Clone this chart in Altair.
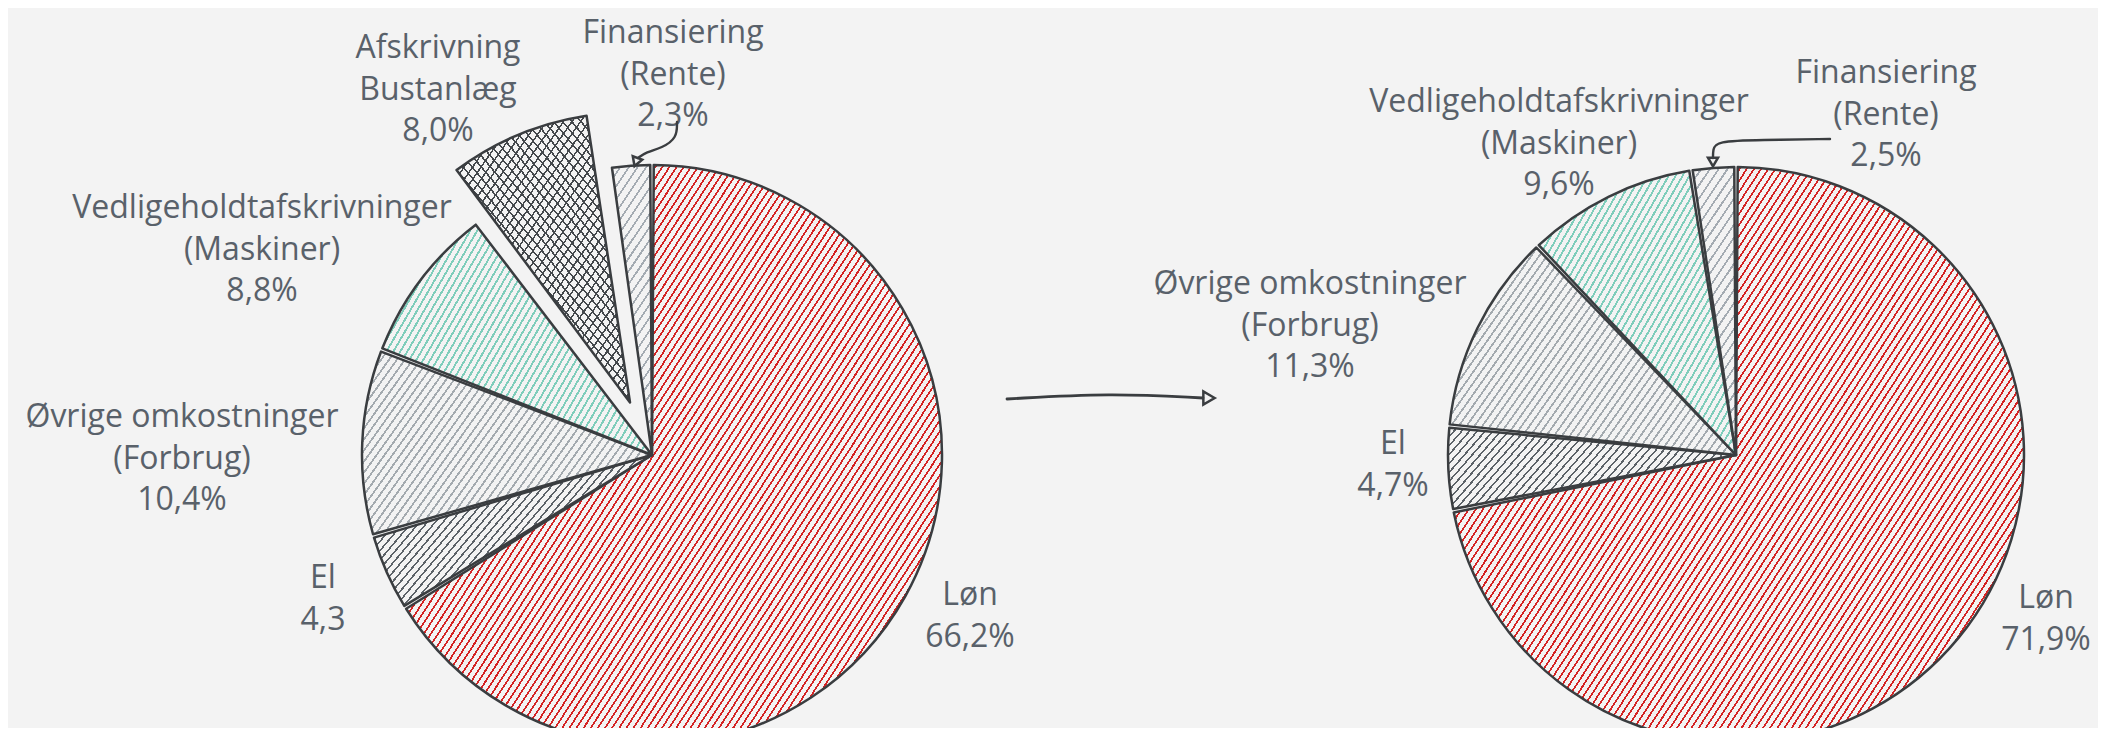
import math
import numpy as np
import pandas as pd
import altair as alt

# ---------------- data ----------------
left_categories = ["Løn", "El", "Øvrige omkostninger", "Vedligeholdtafskrivninger", "Afskrivning", "Finansiering"]
left_subtitles = ["", "", "(Forbrug)", "(Maskiner)", "Bustanlæg", "(Rente)"]
left_values = [66.2, 4.3, 10.4, 8.8, 8.0, 2.3]
left_value_labels = ["66,2%", "4,3", "10,4%", "8,8%", "8,0%", "2,3%"]

right_categories = ["Løn", "El", "Øvrige omkostninger", "Vedligeholdtafskrivninger", "Finansiering"]
right_subtitles = ["", "", "(Forbrug)", "(Maskiner)", "(Rente)"]
right_values = [71.9, 4.7, 11.3, 9.6, 2.5]
right_value_labels = ["71,9%", "4,7%", "11,3%", "9,6%", "2,5%"]

# ---------------- layout / style ----------------
W, H = 2090, 720
M = 8  # page margin (screen coords -> chart coords)
BG = "#f3f3f3"
INK = "#3a3d40"
TEXT = "#59616a"
FONT = "Open Sans"
FS = 32
LH = 41.5

pies = {
    "left": dict(cx=652 - M, cy=455 - M, r=290, explode={"Afskrivning": 57},
                 labels={"Løn": (970, 595), "El": (323, 578), "Øvrige omkostninger": (182, 417),
                         "Vedligeholdtafskrivninger": (262, 208), "Afskrivning": (438, 48),
                         "Finansiering": (673, 33)}),
    "right": dict(cx=1736 - M, cy=455 - M, r=288, explode={},
                  labels={"Løn": (2046, 598), "El": (1393, 444), "Øvrige omkostninger": (1310, 284),
                          "Vedligeholdtafskrivninger": (1559, 102), "Finansiering": (1886, 73)}),
}

styles = {
    "Løn": dict(color="#d42424", spacing=6.0, lw=1.7, angle=57),
    "El": dict(color="#5c6268", spacing=6.0, lw=1.6, angle=50),
    "Øvrige omkostninger": dict(color="#a4aaaf", spacing=6.5, lw=1.8, angle=55),
    "Vedligeholdtafskrivninger": dict(color="#7fcdbb", spacing=6.0, lw=1.9, angle=60),
    "Afskrivning": dict(color="#44484c", spacing=7.0, lw=1.5, angle=55, cross=130),
    "Finansiering": dict(color="#a4abb2", spacing=7.5, lw=1.8, angle=55),
}


def hatch(w, h, color, angle_deg, spacing, lw, bg):
    th = math.radians(angle_deg)
    nx, ny = math.sin(th) / h, math.cos(th) / w
    n = math.hypot(nx, ny)
    nx, ny = nx / n, ny / n
    s = 0.5 * (abs(nx) + abs(ny))
    g = math.hypot(nx / w, ny / h) / (2 * s)
    N = max(2, int(round(1.0 / (spacing * g))))
    f = min(0.9, lw / spacing)
    stops = []
    for k in range(N):
        a, b, c = k / N, (k + f) / N, (k + 1) / N
        stops += [{"offset": round(a, 5), "color": color}, {"offset": round(b, 5), "color": color},
                  {"offset": round(b, 5), "color": bg}, {"offset": round(c, 5), "color": bg}]
    return {"gradient": "linear", "x1": round(0.5 - s * nx, 5), "y1": round(0.5 - s * ny, 5),
            "x2": round(0.5 + s * nx, 5), "y2": round(0.5 + s * ny, 5), "stops": stops}


def bbox(t1, t2, r):
    ts = np.linspace(t1, t2, 400)
    xs = np.concatenate([[0.0], r * np.sin(ts)])
    ys = np.concatenate([[0.0], -r * np.cos(ts)])
    return max(xs.max() - xs.min(), 4.0), max(ys.max() - ys.min(), 4.0)


layers = []
text_rows = []

for key, cats, subs, vals, vlabels in [
    ("left", left_categories, left_subtitles, left_values, left_value_labels),
    ("right", right_categories, right_subtitles, right_values, right_value_labels),
]:
    P = pies[key]
    total = float(sum(vals))
    cum = 0.0
    for cat, sub, v, vl in zip(cats, subs, vals, vlabels):
        t1 = 2 * math.pi * cum / total
        cum += v
        t2 = 2 * math.pi * cum / total
        mid = 0.5 * (t1 + t2)
        d = P["explode"].get(cat, 0)
        row = dict(cat=cat, value=v, t1=t1, t2=t2,
                   x=P["cx"] + d * math.sin(mid), y=P["cy"] - d * math.cos(mid))
        df = pd.DataFrame([row])
        st = styles[cat]
        w, h = bbox(t1, t2, P["r"])
        enc = dict(theta=alt.Theta("t1:Q", scale=None, stack=False), theta2="t2:Q",
                   x=alt.X("x:Q", scale=None), y=alt.Y("y:Q", scale=None))
        layers.append(alt.Chart(df).mark_arc(
            radius=P["r"], padAngle=0.012,
            fill=hatch(w, h, st["color"], st["angle"], st["spacing"], st["lw"], BG),
        ).encode(**enc))
        if "cross" in st:
            layers.append(alt.Chart(df).mark_arc(
                radius=P["r"], padAngle=0.012,
                fill=hatch(w, h, st["color"], st["cross"], st["spacing"], st["lw"], "rgba(0,0,0,0)"),
            ).encode(**enc))
        layers.append(alt.Chart(df).mark_arc(
            radius=P["r"], padAngle=0.012, fillOpacity=0, stroke=INK, strokeWidth=2.5,
            strokeJoin="round").encode(**enc))
        # label lines
        lx, ly = P["labels"][cat]
        lines = [cat] + ([sub] if sub else []) + [vl]
        for i, t in enumerate(lines):
            text_rows.append(dict(x=lx - M, y=ly - M + i * LH, text=t))

texts = alt.Chart(pd.DataFrame(text_rows)).mark_text(
    font=FONT, fontSize=FS, color=TEXT, align="center", baseline="middle"
).encode(x=alt.X("x:Q", scale=None), y=alt.Y("y:Q", scale=None), text="text:N")
layers.append(texts)

# ---------------- arrows (annotation geometry, screen coords) ----------------
arrow_paths = {
    "main": [(1007, 399), (1110, 393), (1203, 398)],
    "fin_left": [(677, 122), (677, 138), (662, 148), (646, 152), (638, 158)],
    "fin_right": [(1830, 139), (1760, 140), (1716, 141), (1713, 150), (1713, 158)],
}
arrow_heads = [("main", 1209, 398, "triangle-right", 0, 170),
               ("fin_left", 636, 162, "triangle-down", 20, 100),
               ("fin_right", 1713, 162, "triangle-down", 0, 100)]

path_rows = []
for name, pts in arrow_paths.items():
    for i, (px, py) in enumerate(pts):
        path_rows.append(dict(name=name, i=i, x=px - M, y=py - M))
path_df = pd.DataFrame(path_rows)
for name in arrow_paths:
    layers.append(alt.Chart(path_df[path_df.name == name]).mark_line(
        interpolate="basis", stroke=INK, strokeWidth=2.8 if name == "main" else 2.4, strokeCap="round"
    ).encode(x=alt.X("x:Q", scale=None), y=alt.Y("y:Q", scale=None), order="i:Q"))
for name, hx, hy, shape, ang, size in arrow_heads:
    layers.append(alt.Chart(pd.DataFrame([dict(x=hx - M, y=hy - M)])).mark_point(
        shape=shape, angle=ang, size=size, filled=False, stroke=INK, strokeWidth=2.5, opacity=1
    ).encode(x=alt.X("x:Q", scale=None), y=alt.Y("y:Q", scale=None)))

chart = alt.layer(*layers).properties(
    width=W, height=H, padding=0, autosize="none", background=BG,
    usermeta={"embedOptions": {"defaultStyle": "html, body { background: #f3f3f3; }"}},
).configure_view(stroke=None)

chart.save("out.html", embed_options={"renderer": "svg", "actions": False})
